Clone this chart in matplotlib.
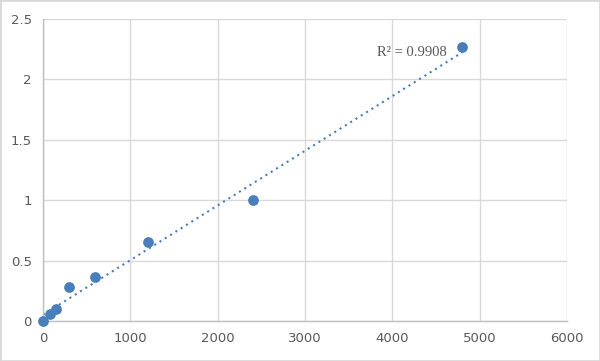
import numpy as np
import matplotlib
matplotlib.use("Agg")
import matplotlib.pyplot as plt

conc = [0, 75, 150, 300, 600, 1200, 2400, 4800]
od = [0.0, 0.06, 0.10, 0.28, 0.36, 0.65, 1.00, 2.27]
x_ticks = [0, 1000, 2000, 3000, 4000, 5000, 6000]
y_ticks = [0, 0.5, 1, 1.5, 2, 2.5]
y_tick_labels = ["0", "0.5", "1", "1.5", "2", "2.5"]
r2_label = "R² = 0.9908"

fig = plt.figure(figsize=(6, 3.61), dpi=100)
fig.patches.append(plt.Rectangle((0, 0), 1, 1, transform=fig.transFigure,
                                 fill=False, edgecolor="#d9d9d9", linewidth=2))
ax = fig.add_axes([0.0717, 0.111, 0.8733, 0.836])

x = np.array(conc, dtype=float)
y = np.array(od, dtype=float)
m, b = np.polyfit(x, y, 1)
xs = np.array([x.min(), x.max()])
ax.plot(xs, m * xs + b, linestyle=(0, (1, 2)), color="#4a7ebb", linewidth=1.5, zorder=2)
ax.scatter(x, y, s=45, color="#4a7ebb", zorder=3, clip_on=False)

ax.set_xlim(0, 6000)
ax.set_ylim(0, 2.5)
ax.set_xticks(x_ticks)
ax.set_yticks(y_ticks)
ax.set_yticklabels(y_tick_labels)
ax.grid(True, color="#d9d9d9", linewidth=1)
ax.set_axisbelow(True)
for s in ["top", "right"]:
    ax.spines[s].set_visible(False)
for s in ["left", "bottom"]:
    ax.spines[s].set_color("#bfbfbf")
    ax.spines[s].set_linewidth(1)
ax.tick_params(length=0, colors="#595959", labelsize=9.5, pad=8)
ax.text(4625, 2.22, r2_label, ha="right", va="center", fontsize=10.5,
        color="#595959", family="Liberation Serif")

fig.savefig("out.png", dpi=100)
